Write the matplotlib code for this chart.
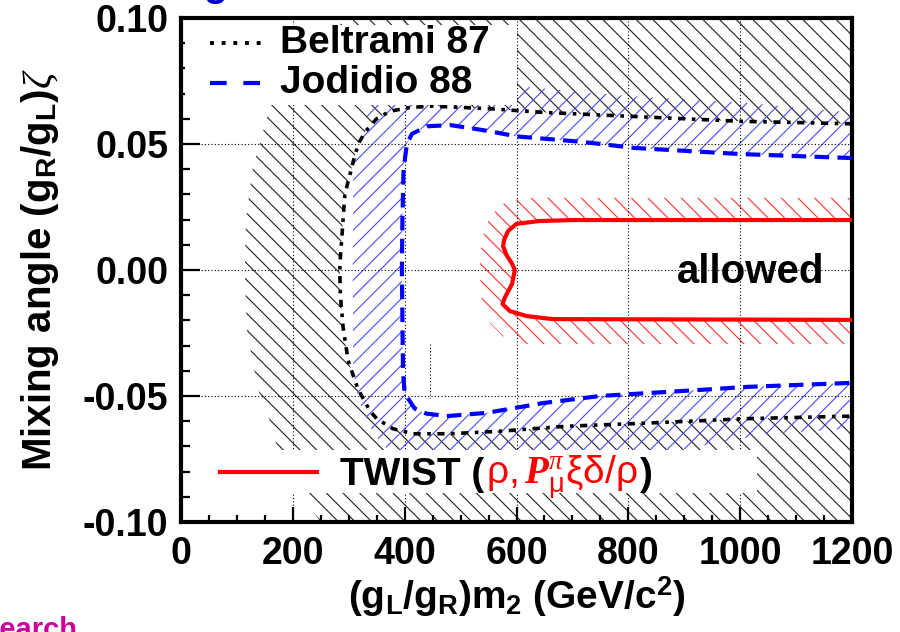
import numpy as np
import matplotlib
matplotlib.use('Agg')
import matplotlib.pyplot as plt
import matplotlib.transforms as mtransforms
from matplotlib.ticker import MultipleLocator, FormatStrFormatter
from matplotlib.patches import Rectangle

plt.rcParams['font.family'] = 'Liberation Sans'
plt.rcParams['font.weight'] = 'bold'
plt.rcParams['axes.labelweight'] = 'bold'
plt.rcParams['axes.unicode_minus'] = False
plt.rcParams['mathtext.fontset'] = 'custom'
plt.rcParams['mathtext.rm'] = 'Liberation Sans:bold'
plt.rcParams['mathtext.bf'] = 'Liberation Sans:bold'
plt.rcParams['mathtext.sf'] = 'Liberation Sans:weight=normal'
plt.rcParams['mathtext.it'] = 'Liberation Serif:style=italic:weight=normal'
plt.rcParams['mathtext.bfit'] = 'Liberation Serif:style=italic:weight=bold'
plt.rcParams['hatch.linewidth'] = 0.8

# Beltrami 87 contour (top-right -> around the left -> bottom-right)
belt_m = [1200, 1000, 800, 650, 550, 450, 410, 374, 350, 330, 317, 308, 300, 293, 288, 285, 284,
          285, 290, 299, 316, 338, 350, 379, 415, 480, 570, 690, 808, 1012, 1200]
belt_y = [0.058, 0.059, 0.061, 0.0625, 0.064, 0.065, 0.0645, 0.063, 0.060, 0.055, 0.050, 0.043, 0.036, 0.030, 0.014, 0.005, 0.0,
          -0.010, -0.023, -0.036, -0.047, -0.056, -0.059, -0.063, -0.065, -0.065, -0.064, -0.062, -0.061, -0.059, -0.058]
# outer edge of the Beltrami excluded band
belt_out_m = [1200, 302, 230, 180, 160, 128, 116, 114, 118, 137, 159, 173, 210, 250, 1200]
belt_out_y = [0.1, 0.1, 0.09, 0.075, 0.0655, 0.04, 0.02, 0.0, -0.024, -0.047, -0.06, -0.071, -0.088, -0.1, -0.1]

# Jodidio 88 contour
jod_m = [1200, 1000, 812, 750, 708, 600, 553, 517, 481, 440, 413, 404, 398, 396, 395,
         396, 397, 400, 418, 439, 475, 547, 648, 750, 839, 928, 1012, 1200]
jod_y = [0.0444, 0.046, 0.0484, 0.050, 0.051, 0.053, 0.055, 0.0563, 0.0575, 0.057, 0.054, 0.050, 0.040, 0.020, 0.0,
         -0.020, -0.040, -0.049, -0.055, -0.057, -0.058, -0.0567, -0.0528, -0.050, -0.0488, -0.0476, -0.0464, -0.0448]
jod_out_m = [1200, 1000, 800, 600, 480, 400, 360, 337, 316, 308, 307, 308, 318, 340, 362, 420, 600, 750, 850, 950, 1050, 1200]
jod_out_y = [0.0625, 0.0665, 0.069, 0.073, 0.075, 0.073, 0.069, 0.064, 0.050, 0.040, 0.0, -0.040, -0.052, -0.063, -0.070, -0.076,
             -0.077, -0.076, -0.073, -0.069, -0.065, -0.063]

# TWIST allowed contour
twist_m = [1200, 700, 640, 600, 585, 578, 576, 582, 592, 597, 592, 579, 575, 588, 618, 665, 1200]
twist_y = [0.0198, 0.0198, 0.0194, 0.0183, 0.0155, 0.012, 0.0095, 0.006, 0.0025, 0.0, -0.0056, -0.011, -0.0135, -0.0163, -0.0183, -0.0195, -0.0198]
twist_out_m = [1200, 610, 575, 552, 538, 534, 538, 552, 575, 610, 1200]
twist_out_y = [0.0286, 0.0286, 0.0262, 0.0210, 0.0120, 0.0, -0.0120, -0.0210, -0.0262, -0.0294, -0.0294]

stray_m = [445, 445]
stray_y = [-0.0294, -0.0508]

xticks = [0, 200, 400, 600, 800, 1000, 1200]
yticks = [-0.10, -0.05, 0.00, 0.05, 0.10]

fig = plt.figure(figsize=(9, 6.32), dpi=100)
ax = fig.add_axes([0.2011, 0.1741, 0.7456, 0.7975])


def band(outer_m, outer_y, inner_m, inner_y):
    return (np.concatenate([outer_m, inner_m[::-1]]),
            np.concatenate([outer_y, inner_y[::-1]]))


bx, by = band(belt_out_m, belt_out_y, belt_m, belt_y)
ax.fill(bx, by, facecolor='none', edgecolor='#202020', hatch='\\\\', linewidth=0, zorder=1)
jx, jy = band(jod_out_m, jod_out_y, jod_m, jod_y)
ax.fill(jx, jy, facecolor='none', edgecolor='#4a4aff', hatch='//', linewidth=0, zorder=1.1)
tx, ty = band(twist_out_m, twist_out_y, twist_m, twist_y)
ax.fill(tx, ty, facecolor='none', edgecolor='#ff3030', hatch='\\\\', linewidth=0, zorder=1.2)

ax.plot(belt_m, belt_y, color='black', lw=2.6, ls=(0, (2.0, 1.8, 1.0, 1.8)), zorder=3)
ax.plot(jod_m, jod_y, color='#0000ff', lw=3.0, ls=(0, (3.5, 2.0)), zorder=3)
ax.plot(twist_m, twist_y, color='#ff0000', lw=3.0, zorder=3)
ax.plot(stray_m, stray_y, color='black', lw=0.8, ls=(0, (1, 2)), zorder=2)

ax.set_xlim(0, 1200)
ax.set_ylim(-0.1, 0.1)
ax.set_xticks(xticks)
ax.set_yticks(yticks)
ax.xaxis.set_minor_locator(MultipleLocator(50))
ax.yaxis.set_minor_locator(MultipleLocator(0.01))
ax.yaxis.set_major_formatter(FormatStrFormatter('%.2f'))
ax.tick_params(which='both', direction='in', top=False, right=False, labelsize=27, width=1.6)
ax.tick_params(axis='x', which='major', length=11, pad=10)
ax.tick_params(axis='x', which='minor', length=5)
ax.tick_params(axis='y', which='major', length=14, pad=9)
ax.tick_params(axis='y', which='minor', length=6.5)
for s in ax.spines.values():
    s.set_linewidth(3)
ax.grid(True, which='major', color='black', lw=0.8, ls=(0, (1, 2)))

ax.set_xlabel(r'(g$_\mathbf{L}$/g$_\mathbf{R}$)m$_\mathbf{2}$ (GeV/c$^\mathbf{2}$)', fontsize=28,
              fontweight='bold', labelpad=2)
ax.set_ylabel(r'Mixing angle (g$_\mathbf{R}$/g$_\mathbf{L}$)$\zeta$', fontsize=29,
              fontweight='bold', labelpad=16)

ax.text(887, -0.001, 'allowed', fontsize=29, va='center', ha='left', zorder=6)

# legend boxes
ax.add_patch(Rectangle((0.006, 0.827), 0.494, 0.16, transform=ax.transAxes,
                       facecolor='white', edgecolor='none', zorder=5))
ax.plot([0.043, 0.128], [0.950, 0.950], transform=ax.transAxes, color='black',
        lw=2.8, ls=(0, (1, 2)), zorder=6)
ax.plot([0.043, 0.128], [0.871, 0.871], transform=ax.transAxes, color='#0000ff',
        lw=3.0, ls=(0, (4, 4)), zorder=6)
ax.text(0.1475, 0.950, 'Beltrami 87', transform=ax.transAxes, fontsize=28, va='center', zorder=6)
ax.text(0.1475, 0.871, 'Jodidio 88', transform=ax.transAxes, fontsize=28, va='center', zorder=6)

ax.add_patch(Rectangle((0.013, 0.0575), 0.845, 0.0855, transform=ax.transAxes,
                       facecolor='white', edgecolor='none', zorder=5))
ax.plot([0.058, 0.203], [0.099, 0.099], transform=ax.transAxes, color='#ff0000', lw=3.0, zorder=6)
t1 = ax.text(0.237, 0.074, 'TWIST (', transform=ax.transAxes, fontsize=28, va='baseline', zorder=6)

fig.canvas.draw()
r = fig.canvas.get_renderer()
base = ax.transAxes.transform((0.237, 0.074))[1]
bb = t1.get_window_extent(r)
t2 = ax.text(bb.x1 + 2, base, r'$\mathsf{\rho,}\mathbfit{P}^{\mathit{\pi}}_{\mathsf{\mu}}\mathsf{\xi\delta/\rho}$',
             transform=mtransforms.IdentityTransform(), fontsize=28, color='#ff0000',
             va='baseline', zorder=6)
bb2 = t2.get_window_extent(r)
ax.text(bb2.x1 + 2, base, ')', transform=mtransforms.IdentityTransform(), fontsize=28,
        va='baseline', zorder=6)

# clipped slide text around the figure
fig.text(0.239, 1.006, 'g', color='#0000cc', fontsize=28, ha='center', va='baseline')
fig.text(0.0856, -0.0095, 'Search', color='#cc0099', fontsize=21, ha='right', va='baseline')

fig.savefig('out.png', dpi=100)
